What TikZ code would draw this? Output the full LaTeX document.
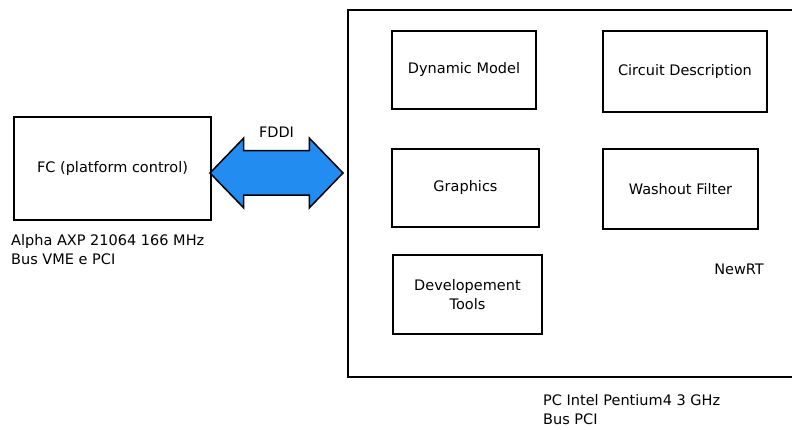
\documentclass[tikz,border=0pt]{standalone}
\usepackage{fontspec}
\setmainfont{DejaVu Sans}
\usetikzlibrary{shapes.arrows, positioning}
\definecolor{linkblue}{RGB}{35,140,240}
\newcommand\boxfont{\fontsize{14.5}{19.5}\selectfont}
\tikzstyle{block} = [rectangle, text centered, draw=black, line width=2pt, fill=white, font=\boxfont]
\tikzstyle{machine} = [rectangle, draw=black, line width=2pt, fill=white]
\tikzstyle{caption} = [align=left, inner sep=0pt, font=\boxfont]
\tikzstyle{link} = [double arrow, double arrow head extend=12.5pt, double arrow tip angle=92, minimum height=133pt, inner xsep=0pt, inner ysep=21.5pt, draw=black, line width=1.5pt, fill=linkblue]

\begin{document}
\begin{tikzpicture}[x=1pt, y=1pt]

            \clip (0,0) rectangle (792,430);

            \node (fc) [block, minimum width=197pt, minimum height=103pt] at (112.5,261.5) {FC (platform control)};
            \node (pc) [machine, minimum width=452pt, minimum height=367pt] at (574,236.5) {};

            \node (dynamic) [block, minimum width=144pt, minimum height=78pt] at (464,360) {Dynamic Model};
            \node (circuit) [block, minimum width=164pt, minimum height=81pt] at (685,358.5) {Circuit Description};
            \node (graphics) [block, minimum width=147pt, minimum height=78pt] at (465.5,242) {Graphics};
            \node (washout) [block, minimum width=155pt, minimum height=80pt] at (680.5,241) {Washout Filter};
            \node (devtools) [block, minimum width=149pt, minimum height=79pt, align=center] at (467.5,135.5) {Developement\\Tools};
            \node (newrt) [font=\boxfont] at (739,161) {NewRT};

            \node (fddi) [link] at (276.5,257) {};
            \node (fddilabel) [font=\boxfont, above=9pt of fddi] {FDDI};

            \node (alpha) [caption, anchor=north west] at ([xshift=-2pt, yshift=-13pt]fc.south west) {Alpha AXP 21064 166 MHz\\Bus VME e PCI};
            \node (pentium) [caption, anchor=north west] at (543,36) {PC Intel Pentium4 3 GHz\\Bus PCI};

        \end{tikzpicture}
\end{document}
